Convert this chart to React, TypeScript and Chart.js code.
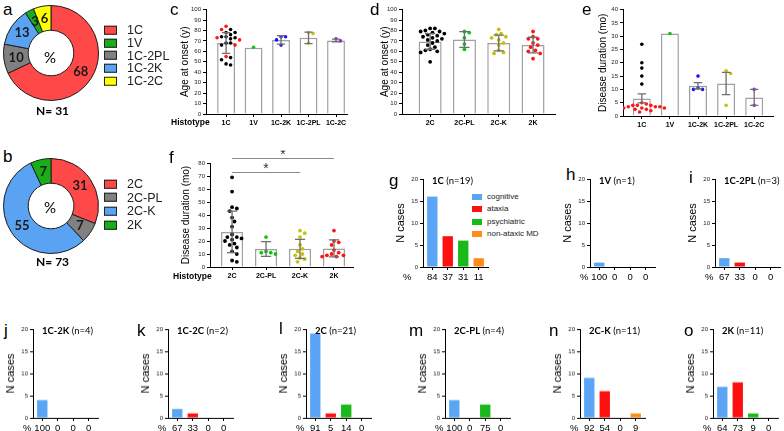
import React, { useEffect, useRef } from 'react';
import { Chart, registerables } from 'chart.js';
Chart.register(...registerables);

const SANS = '"Liberation Sans", Arial, sans-serif';
const CALI = 'Lato, "Open Sans", sans-serif';

// ---------------- DATA ----------------
// donut a (percent of N=31), ring order clockwise from top
const ringALabels = ['1C', '1C-2PL', '1C-2K', '1V', '1C-2C'];
const ringAValues = [68, 10, 13, 3, 6];
const legendALabels = ['1C', '1V', '1C-2PL', '1C-2K', '1C-2C'];
const nA = 31;
// donut b (percent of N=73)
const ringBLabels = ['2C', '2C-PL', '2C-K', '2K'];
const ringBValues = [31, 7, 55, 7];
const legendBLabels = ['2C', '2C-PL', '2C-K', '2K'];
const nB = 73;

// panel c: age at onset, MM1 histotypes
const cCats = ['1C', '1V', '1C-2K', '1C-2PL', '1C-2C'];
const cMeans = [68, 63.5, 71, 73, 70.5];
const cSD = [10, 0, 4, 5.5, 1.3];
const c1CBlack = [81, 78, 78, 76, 74, 74, 73, 72, 68, 68, 66, 54, 52, 48, 47];
const c1CRed = [84, 81, 73, 71, 66, 55];
const c1V = [64];
const c1C2K = [74, 74, 71, 66];
const c1C2PL = [78, 77, 68];
const c1C2C = [70, 72];

// panel d: age at onset, VV2/MV2 histotypes
const dCats = ['2C', '2C-PL', '2C-K', '2K'];
const dMeans = [69.5, 71.4, 68, 66];
const dSD = [7.5, 7.5, 7.5, 7.5];
const d2C = [82, 82, 80, 79, 79, 78, 77, 76, 75, 74, 73, 72, 71, 70, 68, 66, 64, 62, 61, 60, 59, 50];
const d2CPL = [79, 78, 73, 67, 62];
const d2CK = [81, 77, 76, 74, 73, 71, 68, 66, 61, 59, 58];
const d2K = [79, 74, 72, 72, 68, 66, 64, 61, 60, 58, 53];

// panel e: disease duration, MM1 histotypes
const eCats = ['1C', '1V', '1C-2K', '1C-2PL', '1C-2C'];
const eMeans = [6.6, 31, 11.4, 12.2, 7];
const eSEM = [1.7, 0, 1.15, 4.2, 3];
const e1CBlack = [27, 20, 18, 15, 12];
const e1CRed = [5, 4.5, 4, 4, 4, 3.5, 3.5, 3.5, 3, 3, 3, 3, 2.5, 2.5, 2, 1.5];
const e1V = [31];
const e1C2K = [15, 10.5, 10, 10];
const e1C2PL = [17, 16, 4];
const e1C2C = [10, 4];

// panel f: disease duration, VV2/MV2 histotypes
const fCats = ['2C', '2C-PL', '2C-K', '2K'];
const fMeans = [27, 13.8, 14, 14.3];
const fSD = [16, 5.7, 7.3, 6.5];
const f2C = [69, 58, 46, 45, 43, 38, 35, 31, 25, 23, 23, 22, 21, 20, 18, 17, 15, 12, 10, 5, 4];
const f2CPL = [23, 12, 11, 11, 10];
const f2CK = [28, 26, 23, 17, 14, 12, 10, 9, 7, 6, 4];
const f2K = [28, 20, 19, 17, 13, 11, 10, 9, 8, 8, 9];
const fSig = [
  { from: 0, to: 3, y: 84, label: '*' },
  { from: 0, to: 2, y: 73, label: '*' },
];

// panels g-o: symptom counts
const symptoms = ['cognitive', 'ataxia', 'psychiatric', 'non-ataxic MD'];
const gCounts = [16, 7, 6, 2]; const gPct = ['84', '37', '31', '11'];
const hCounts = [1, 0, 0, 0]; const hPct = ['100', '0', '0', '0'];
const iCounts = [2, 1, 0, 0]; const iPct = ['67', '33', '0', '0'];
const jCounts = [4, 0, 0, 0]; const jPct = ['100', '0', '0', '0'];
const kCounts = [2, 1, 0, 0]; const kPct = ['67', '33', '0', '0'];
const lCounts = [19, 1, 3, 0]; const lPct = ['91', '5', '14', '0'];
const mCounts = [4, 0, 3, 0]; const mPct = ['100', '0', '75', '0'];
const nCounts = [9, 6, 0, 1]; const nPct = ['92', '54', '0', '9'];
const oCounts = [7, 8, 1, 0]; const oPct = ['64', '73', '9', '0'];

// ---------------- STYLES ----------------
const donutColors: Record<string, string> = {
  '1C': '#ff4848', '1V': '#1aad1a', '1C-2PL': '#808080', '1C-2K': '#5aa2f2', '1C-2C': '#ffff00',
  '2C': '#ff4848', '2C-PL': '#808080', '2C-K': '#5aa2f2', '2K': '#1aad1a',
};
const symptomColors = ['#5aa5f5', '#ff1010', '#19b919', '#ff8c1a'];
const DOT = { black: '#000000', red: '#ff1414', blue: '#1414ff', yellow: '#c8c010', purple: '#a020e0', green: '#14c014' };

// ---------------- HELPERS ----------------
function swarm(groups: { values: number[]; color: string }[], cat: number, pxX: number, pxY: number, d: number) {
  const pts: { v: number; color: string }[] = [];
  groups.forEach((g) => g.values.forEach((v) => pts.push({ v, color: g.color })));
  pts.sort((a, b) => b.v - a.v);
  const placed: { xp: number; yp: number; v: number; color: string }[] = [];
  for (const p of pts) {
    const yp = p.v * pxY;
    let off = 0;
    for (let k = 0; k < 60; k++) {
      const o = k === 0 ? 0 : (k % 2 ? 1 : -1) * Math.ceil(k / 2) * d * 0.55;
      const ok = placed.every((q) => Math.hypot(q.xp - o, q.yp - yp) >= d);
      if (ok) { off = o; break; }
    }
    placed.push({ xp: off, yp, v: p.v, color: p.color });
  }
  return placed.map((q) => ({ x: cat + q.xp / pxX, y: q.v, color: q.color }));
}

const errPlugin = {
  id: 'errbars',
  afterDatasetsDraw(chart: any, _a: any, opts: any) {
    const { means, errs, color, cap } = opts;
    const xs = chart.scales.x, ys = chart.scales.y;
    const ctx = chart.ctx;
    ctx.save();
    ctx.strokeStyle = color;
    ctx.lineWidth = 1.3;
    const unit = xs.getPixelForValue(1) - xs.getPixelForValue(0);
    means.forEach((m: number, i: number) => {
      const e = errs[i];
      if (!e) return;
      const xc = xs.getPixelForValue(i);
      const hw = (cap * unit) / 2;
      const y1 = ys.getPixelForValue(m - e), y2 = ys.getPixelForValue(m + e);
      ctx.beginPath();
      ctx.moveTo(xc, y1); ctx.lineTo(xc, y2);
      ctx.moveTo(xc - hw, y1); ctx.lineTo(xc + hw, y1);
      ctx.moveTo(xc - hw, y2); ctx.lineTo(xc + hw, y2);
      ctx.stroke();
    });
    ctx.restore();
  },
};

const sigPlugin = {
  id: 'sig',
  afterDatasetsDraw(chart: any, _a: any, opts: any) {
    if (!opts || !opts.items) return;
    const xs = chart.scales.x, ys = chart.scales.y;
    const ctx = chart.ctx;
    ctx.save();
    ctx.strokeStyle = '#8a8a8a';
    ctx.lineWidth = 1;
    ctx.fillStyle = '#333';
    ctx.font = `14px ${SANS}`;
    ctx.textAlign = 'center';
    ctx.textBaseline = 'middle';
    opts.items.forEach((s: any) => {
      const x1 = xs.getPixelForValue(s.from), x2 = xs.getPixelForValue(s.to);
      const y = Math.round(ys.getPixelForValue(s.y)) + 0.5;
      ctx.beginPath(); ctx.moveTo(x1, y); ctx.lineTo(x2, y); ctx.stroke();
      ctx.fillText(s.label, (x1 + x2) / 2, y - 3);
    });
    ctx.restore();
  },
};

const donutLabelPlugin = {
  id: 'donutLabels',
  afterDatasetsDraw(chart: any) {
    const meta = chart.getDatasetMeta(0);
    const vals = chart.data.datasets[0].data;
    const ctx = chart.ctx;
    ctx.save();
    ctx.fillStyle = '#1a1a1a';
    ctx.font = `bold 13px ${CALI}`;
    ctx.textAlign = 'center';
    ctx.textBaseline = 'middle';
    meta.data.forEach((arc: any, i: number) => {
      const p = arc.tooltipPosition();
      ctx.fillText(String(vals[i]), p.x, p.y);
    });
    ctx.restore();
  },
};

function linearX(labels: string[], xMin: number, xMax: number, xHeight: number, font: any) {
  return {
    type: 'linear',
    min: xMin,
    max: xMax,
    offset: false,
    afterBuildTicks: (s: any) => { s.ticks = labels.map((_, i) => ({ value: i })); },
    afterFit: (s: any) => { s.height = xHeight; },
    ticks: {
      callback: (v: number) => labels[Math.round(v)] ?? '',
      font, color: '#000', padding: 2, maxRotation: 0, autoSkip: false,
    },
    grid: { display: true, offset: false, drawOnChartArea: false, tickLength: 3, color: '#000', lineWidth: 1 },
    border: { display: true, color: '#000', width: 1 },
  };
}

function linearY(min: number, max: number, step: number, yWidth: number, title: string, titleSize: number, titlePad: number) {
  return {
    type: 'linear',
    min, max,
    afterFit: (s: any) => { s.width = yWidth; },
    ticks: { stepSize: step, font: { size: 6, family: SANS }, color: '#222', padding: 2 },
    grid: { display: true, drawOnChartArea: false, tickLength: 3, color: '#000', lineWidth: 1 },
    border: { display: true, color: '#000', width: 1 },
    title: { display: true, text: title, font: { size: titleSize, family: SANS }, color: '#000', padding: { top: titlePad, bottom: 0 } },
  };
}

function dotBarConfig(o: any) {
  const pxX = o.plotW / (o.xMax - o.xMin);
  const pxY = o.plotH / (o.yMax - o.yMin);
  const pts: any[] = [];
  o.groups.forEach((gs: any, i: number) => pts.push(...swarm(gs, i, pxX, pxY, o.dot * 2 + 0.5)));
  return {
    type: 'bar',
    data: {
      datasets: [
        {
          type: 'scatter', data: pts, order: 0, pointRadius: o.dot, pointHoverRadius: o.dot,
          pointBackgroundColor: pts.map((p) => p.color), pointBorderWidth: 0,
        },
        {
          type: 'bar', data: o.means.map((m: number, i: number) => ({ x: i, y: m })), order: 1,
          backgroundColor: '#ffffff', borderColor: '#a0a0a0', borderWidth: 1.5,
          barPercentage: o.barPct, categoryPercentage: 1,
        },
      ],
    },
    options: {
      responsive: false, animation: false, events: [],
      layout: { padding: { left: 0, top: o.padTop, right: o.padRight, bottom: 0 } },
      plugins: {
        legend: { display: false }, tooltip: { enabled: false },
        errbars: { means: o.means, errs: o.errs, color: '#6e6e6e', cap: 0.3 },
        sig: { items: o.sig || [] },
      },
      scales: {
        x: linearX(o.labels, o.xMin, o.xMax, o.xHeight, { size: 7, weight: 'bold', family: SANS }),
        y: linearY(o.yMin, o.yMax, o.yStep, o.yWidth, o.yTitle, 10, o.titlePad ?? 0),
      },
    },
    plugins: [errPlugin, sigPlugin],
  };
}

function smallConfig(counts: number[], pcts: string[]) {
  return {
    type: 'bar',
    data: {
      datasets: [{
        data: counts.map((c, i) => ({ x: i, y: c })),
        backgroundColor: symptomColors, borderWidth: 0, barPercentage: 0.67, categoryPercentage: 1,
      }],
    },
    options: {
      responsive: false, animation: false, events: [],
      layout: { padding: { left: 0, top: 6, right: 3, bottom: 0 } },
      plugins: { legend: { display: false }, tooltip: { enabled: false } },
      scales: {
        x: linearX(pcts, -0.6, 3.6, 16, { size: 9.5, family: SANS }),
        y: linearY(0, 20, 5, 32, 'N cases', 11, 3),
      },
    },
  };
}

function donutConfig(labels: string[], values: number[]) {
  return {
    type: 'doughnut',
    data: {
      labels,
      datasets: [{ data: values, backgroundColor: labels.map((l) => donutColors[l]), borderColor: '#1e1e1e', borderWidth: 1 }],
    },
    options: {
      responsive: false, animation: false, events: [], cutout: '48%',
      layout: { padding: 0 },
      plugins: { legend: { display: false }, tooltip: { enabled: false } },
    },
    plugins: [donutLabelPlugin],
  };
}

function ChartBox({ left, top, width, height, make }: any) {
  const ref = useRef<HTMLCanvasElement>(null);
  useEffect(() => {
    const chart = new Chart(ref.current as HTMLCanvasElement, make() as any);
    return () => chart.destroy();
  }, []);
  return (
    <canvas ref={ref} width={width} height={height}
      style={{ position: 'absolute', left, top, width, height }} />
  );
}

function Txt({ x, y, size, bold, font, color, children }: any) {
  return (
    <div style={{
      position: 'absolute', left: x, top: y, transform: 'translateY(-50%)', whiteSpace: 'nowrap',
      fontSize: size, fontWeight: bold ? 'bold' : 'normal', fontFamily: font || SANS, color: color || '#000', lineHeight: 1,
    }}>{children}</div>
  );
}

function Legend({ x, y, step, labels, colors, box, size }: any) {
  return (
    <>
      {labels.map((l: string, i: number) => (
        <div key={l} style={{ position: 'absolute', left: x, top: y + i * step, transform: 'translateY(-50%)', display: 'flex', alignItems: 'center', whiteSpace: 'nowrap' }}>
          <div style={{ width: box[0], height: box[1], background: colors[i], border: box[2] ? '1px solid #222' : 'none', boxSizing: 'border-box' }} />
          <span style={{ marginLeft: box[3], fontSize: size, fontFamily: SANS, color: '#222', lineHeight: 1 }}>{l}</span>
        </div>
      ))}
    </>
  );
}

function SmallPanel({ letter, lx, ly, name, n, counts, pcts, x0, top, pctDx }: any) {
  const h = 88.5;
  return (
    <>
      <Txt x={lx} y={ly} size={17}>{letter}</Txt>
      <ChartBox left={x0 - 32} top={top - 6} width={100} height={h + 6 + 16} make={() => smallConfig(counts, pcts)} />
      <Txt x={x0 + 9} y={top + 2} size={9.5} font={CALI}><b>{name}</b> (n={n})</Txt>
      <Txt x={x0 - (pctDx ?? 10)} y={top + h + 10} size={9.5}>%</Txt>
    </>
  );
}

export default function App() {
  const black = DOT.black, red = DOT.red;
  const cMake = () => dotBarConfig({
    labels: cCats, means: cMeans, errs: cSD, yMin: 0, yMax: 100, yStep: 10, xMin: -0.73, xMax: 4.4,
    plotW: 141, plotH: 105, dot: 1.8, barPct: 0.65, padTop: 5, padRight: 3, yWidth: 28, xHeight: 16,
    yTitle: 'Age at onset (y)', titlePad: 1,
    groups: [
      [{ values: c1CBlack, color: black }, { values: c1CRed, color: red }],
      [{ values: c1V, color: DOT.green }],
      [{ values: c1C2K, color: DOT.blue }],
      [{ values: c1C2PL, color: DOT.yellow }],
      [{ values: c1C2C, color: DOT.purple }],
    ],
  });
  const dMake = () => dotBarConfig({
    labels: dCats, means: dMeans, errs: dSD, yMin: 0, yMax: 100, yStep: 10, xMin: -0.82, xMax: 3.64,
    plotW: 153, plotH: 105, dot: 1.9, barPct: 0.67, padTop: 5, padRight: 3, yWidth: 28, xHeight: 16,
    yTitle: 'Age at onset (y)', titlePad: 5,
    groups: [
      [{ values: d2C, color: black }],
      [{ values: d2CPL, color: DOT.green }],
      [{ values: d2CK, color: DOT.yellow }],
      [{ values: d2K, color: red }],
    ],
  });
  const eMake = () => dotBarConfig({
    labels: eCats, means: eMeans, errs: eSEM, yMin: 0, yMax: 40, yStep: 5, xMin: -0.67, xMax: 4.67,
    plotW: 150, plotH: 107, dot: 1.8, barPct: 0.64, padTop: 5.3, padRight: 4, yWidth: 26, xHeight: 16,
    yTitle: 'Disease duration (mo)', titlePad: 0,
    groups: [
      [{ values: e1CBlack, color: black }, { values: e1CRed, color: red }],
      [{ values: e1V, color: DOT.green }],
      [{ values: e1C2K, color: DOT.blue }],
      [{ values: e1C2PL, color: DOT.yellow }],
      [{ values: e1C2C, color: DOT.purple }],
    ],
  });
  const fMake = () => dotBarConfig({
    labels: fCats, means: fMeans, errs: fSD, yMin: 0, yMax: 80, yStep: 10, xMin: -0.65, xMax: 3.56,
    plotW: 143, plotH: 104, dot: 1.9, barPct: 0.65, padTop: 13, padRight: 3, yWidth: 31, xHeight: 16,
    yTitle: 'Disease duration (mo)', titlePad: 1, sig: fSig,
    groups: [
      [{ values: f2C, color: black }],
      [{ values: f2CPL, color: DOT.green }],
      [{ values: f2CK, color: DOT.yellow }],
      [{ values: f2K, color: red }],
    ],
  });

  const TOP1 = 178.5, TOP2 = 329;

  return (
    <div style={{ position: 'fixed', left: 0, top: 0, width: 784, height: 431, background: '#fff', overflow: 'hidden', fontFamily: SANS }}>
      {/* a */}
      <Txt x={3} y={9} size={17}>a</Txt>
      <ChartBox left={3} top={5} width={96} height={96} make={() => donutConfig(ringALabels, ringAValues)} />
      <Txt x={44} y={57} size={15} font={CALI}>%</Txt>
      <Txt x={36} y={111} size={12} bold font={CALI}>N= {nA}</Txt>
      <Legend x={104} y={30} step={12.8} labels={legendALabels} colors={legendALabels.map((l) => donutColors[l])} box={[13, 9, true, 10]} size={12.5} />

      {/* b */}
      <Txt x={3} y={156} size={17}>b</Txt>
      <ChartBox left={3} top={158} width={96} height={96} make={() => donutConfig(ringBLabels, ringBValues)} />
      <Txt x={44} y={207} size={15} font={CALI}>%</Txt>
      <Txt x={36} y={262} size={12} bold font={CALI}>N= {nB}</Txt>
      <Legend x={104} y={184} step={13.7} labels={legendBLabels} colors={legendBLabels.map((l) => donutColors[l])} box={[13, 9, true, 10]} size={12.5} />

      {/* c */}
      <Txt x={170} y={9} size={17}>c</Txt>
      <ChartBox left={178} top={4} width={172} height={126} make={cMake} />
      <Txt x={171} y={122} size={8.5} bold>Histotype</Txt>

      {/* d */}
      <Txt x={370} y={9} size={17}>d</Txt>
      <ChartBox left={374} top={4} width={184} height={126} make={dMake} />

      {/* e */}
      <Txt x={582} y={9} size={17}>e</Txt>
      <ChartBox left={597} top={4} width={180} height={128} make={eMake} />

      {/* f */}
      <Txt x={169} y={157} size={17}>f</Txt>
      <ChartBox left={179} top={150} width={177} height={133} make={fMake} />
      <Txt x={173} y={276} size={8.5} bold>Histotype</Txt>

      {/* g legend */}
      <Legend x={472} y={197} step={12.4} labels={symptoms} colors={symptomColors} box={[10, 6, false, 5]} size={8} />

      <SmallPanel letter="g" lx={389} ly={180} name="1C" n={19} counts={gCounts} pcts={gPct} x0={423} top={TOP1} pctDx={20} />
      <SmallPanel letter="h" lx={566} ly={174} name="1V" n={1} counts={hCounts} pcts={hPct} x0={590} top={TOP1} />
      <SmallPanel letter="i" lx={689} ly={177} name="1C-2PL" n={3} counts={iCounts} pcts={iPct} x0={715} top={TOP1} />
      <SmallPanel letter="j" lx={4} ly={330} name="1C-2K" n={4} counts={jCounts} pcts={jPct} x0={33} top={TOP2} />
      <SmallPanel letter="k" lx={137} ly={330} name="1C-2C" n={2} counts={kCounts} pcts={kPct} x0={168} top={TOP2} />
      <SmallPanel letter="l" lx={279} ly={328} name="2C" n={21} counts={lCounts} pcts={lPct} x0={306} top={TOP2} />
      <SmallPanel letter="m" lx={409} ly={330} name="2C-PL" n={4} counts={mCounts} pcts={mPct} x0={445} top={TOP2} />
      <SmallPanel letter="n" lx={549} ly={330} name="2C-K" n={11} counts={nCounts} pcts={nPct} x0={580} top={TOP2} />
      <SmallPanel letter="o" lx={684} ly={330} name="2K" n={11} counts={oCounts} pcts={oPct} x0={713} top={TOP2} />
    </div>
  );
}
